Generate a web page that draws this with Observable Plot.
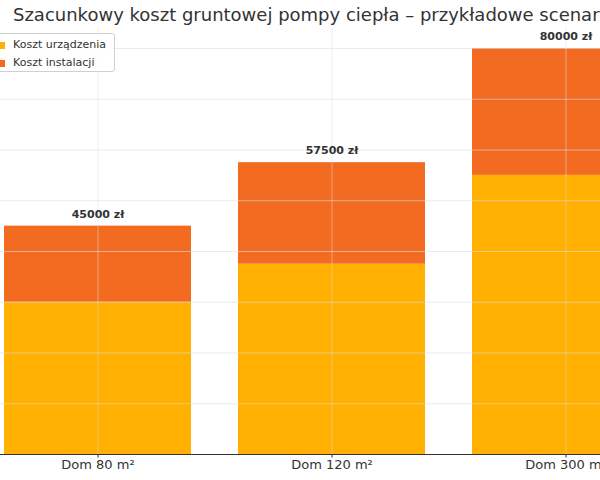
<!DOCTYPE html>
<html>
<head>
<meta charset="utf-8">
<script src="https://cdn.jsdelivr.net/npm/d3@7"></script>
<script src="https://cdn.jsdelivr.net/npm/@observablehq/plot@0.6"></script>
<style>
  html, body { margin: 0; padding: 0; background: #fff; overflow: hidden; }
  #wrap { position: relative; width: 600px; height: 480px; overflow: hidden; font-family: "DejaVu Sans", sans-serif; }
  #title { height: 28px; line-height: 30px; padding-left: 13px; white-space: nowrap; font-size: 18px; color: #333; }
  #legend { position: absolute; left: -30px; top: 33px; width: 143px; height: 37px; border: 1px solid #d0d0d0; border-radius: 3px; background: rgba(255,255,255,0.85); font-size: 11px; color: #333; }
  .item { position: absolute; left: 42px; white-space: nowrap; }
  .sw { position: absolute; left: -30px; width: 22px; height: 7px; }
</style>
</head>
<body>
<div id="wrap">
  <div id="title">Szacunkowy koszt gruntowej pompy ciepła – przykładowe scenariusze</div>
  <div id="chart"></div>
  <div id="legend"></div>
</div>
<script>
const categories = ["Dom 80 m²", "Dom 120 m²", "Dom 300 m²"];
const seriesNames = ["Koszt urządzenia", "Koszt instalacji"];
const deviceCost = [30000, 37500, 55000];
const installCost = [15000, 20000, 25000];
const colors = ["#ffb000", "#f26b21"];
const yTicks = [0, 10000, 20000, 30000, 40000, 50000, 60000, 70000, 80000];

const rows = [];
categories.forEach((c, i) => {
  rows.push({cat: c, series: seriesNames[0], value: deviceCost[i]});
  rows.push({cat: c, series: seriesNames[1], value: installCost[i]});
});
const totals = categories.map((c, i) => ({cat: c, total: deviceCost[i] + installCost[i]}));

const plot = Plot.plot({
  width: 600,
  height: 452,
  marginTop: 0,
  marginBottom: 26,
  marginLeft: 0,
  marginRight: 0,
  style: {fontFamily: "DejaVu Sans, sans-serif", overflow: "hidden", background: "white"},
  x: {domain: categories, range: [-20.25, 683.25], paddingInner: 0.2, paddingOuter: 0.1, label: null},
  y: {domain: [0, 80000], range: [426, 20], label: null, axis: null},
  color: {domain: seriesNames, range: colors},
  marks: [
    Plot.barY(rows, {x: "cat", y: "value", fill: "series"}),
    Plot.gridY(yTicks, {stroke: "#dddddd", strokeOpacity: 0.6}),
    Plot.gridX(categories, {stroke: "#dddddd", strokeOpacity: 0.5}),
    Plot.ruleY([0], {stroke: "#333", strokeWidth: 1}),
    Plot.axisX({tickSize: 3.5, tickPadding: 2, fontSize: 13, color: "#333", label: null}),
    Plot.text(totals, {x: "cat", y: "total", text: d => `${d.total} zł`, dy: -12, fontWeight: "bold", fontSize: 11, fill: "#333"})
  ]
});
document.getElementById("chart").appendChild(plot);

const legend = document.getElementById("legend");
seriesNames.forEach((s, i) => {
  const item = document.createElement("div");
  item.className = "item";
  item.style.top = (i === 0 ? 4 : 22) + "px";
  item.textContent = s;
  const sw = document.createElement("span");
  sw.className = "sw";
  sw.style.background = colors[i];
  sw.style.top = "4px";
  item.appendChild(sw);
  legend.appendChild(item);
});
</script>
</body>
</html>
